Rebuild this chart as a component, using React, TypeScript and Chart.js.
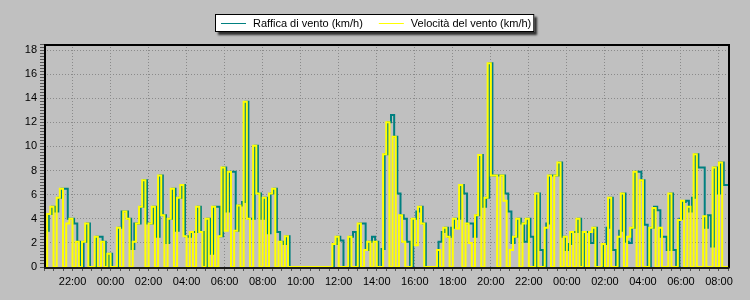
import React, { useEffect, useRef } from 'react';
import { Chart, registerables } from 'chart.js';

Chart.register(...registerables);

// first sample: 20:30 of day 1 (hours counted from midnight of day 1)
const START_HOUR = 20.5;
const STEP_MIN = 10;
const GUST_LAG_MIN = 5;
const X_MIN = 20.5;
const X_MAX = 56.5;
const Y_MAX = 18.5;

const seriesLabels = ['Raffica di vento (km/h)', 'Velocità del vento (km/h)'];
const seriesColors = ['#008080', '#ffff00'];

// Raffica di vento (km/h), one value every 10 minutes
const gust: number[] = [
  2.5, 3.0, 4.4, 5.0, 4.6, 5.75, 6.5, 6.5, 4.0, 4.0,
  3.6, 2.1, 0, 2.1, 3.6, 0, 0, 2.5, 2.5, 2.1,
  0, 1.1, 0, 0, 3.25, 4.6, 4.6, 4.0, 1.5, 3.6,
  3.6, 5.0, 7.2, 3.6, 3.6, 5.0, 2.5, 7.6, 4.3, 2.0,
  4.0, 6.5, 3.0, 5.75, 6.8, 2.55, 2.5, 2.9, 2.9, 5.0,
  2.9, 0, 4.0, 1.1, 5.0, 5.0, 2.55, 8.25, 4.6, 7.9,
  7.9, 3.0, 5.1, 5.4, 13.7, 4.0, 4.0, 10.05, 6.1, 4.0,
  5.75, 2.8, 6.1, 6.5, 2.9, 2.1, 1.9, 2.55, 0, 0,
  0, 0, 0, 0, 0, 0, 0, 0, 0, 0,
  0, 0, 1.9, 2.5, 2.2, 0, 0, 2.5, 2.9, 0,
  3.6, 3.6, 1.4, 2.1, 2.5, 2.1, 0, 1.5, 9.36, 12.0,
  12.6, 10.8, 6.1, 4.3, 4.0, 2.1, 0, 4.0, 4.6, 5.0,
  3.6, 0, 0, 0, 0, 2.1, 2.9, 3.25, 2.5, 3.25,
  4.0, 4.0, 6.8, 6.1, 3.6, 3.6, 2.5, 4.3, 9.3, 5.0,
  5.75, 16.9, 7.6, 7.6, 7.6, 7.6, 6.1, 4.6, 2.0, 2.5,
  4.0, 3.6, 2.1, 4.0, 2.5, 0, 6.1, 1.4, 0, 3.6,
  7.6, 7.6, 7.6, 8.67, 2.5, 1.4, 1.9, 2.9, 2.9, 4.0,
  0, 2.9, 2.9, 2.0, 3.25, 0, 0, 1.9, 3.25, 5.75,
  1.4, 0, 3.0, 6.1, 2.1, 2.0, 3.25, 7.9, 7.9, 7.2,
  3.5, 0, 3.25, 5.0, 4.7, 2.5, 2.5, 1.4, 6.1, 1.4,
  0, 4.0, 5.4, 5.5, 4.6, 5.75, 9.36, 8.25, 8.25, 3.25,
  4.3, 1.7, 8.25, 6.1, 8.67, 6.8,
];

// Velocità del vento (km/h), one value every 10 minutes
const speed: number[] = [
  2.5, 0, 4.4, 5.0, 0, 5.75, 6.5, 0, 3.6, 4.0,
  0, 2.1, 0, 2.1, 3.6, 0, 0, 2.5, 0, 2.1,
  0, 1.1, 0, 0, 3.25, 0, 4.6, 4.0, 0, 2.1,
  3.6, 5.0, 7.2, 0, 3.6, 5.0, 0, 7.6, 4.3, 0,
  4.0, 6.5, 0, 5.75, 6.8, 2.55, 0, 2.9, 0, 5.0,
  2.9, 0, 4.0, 0, 5.0, 0, 2.55, 8.25, 3.0, 7.9,
  0, 3.0, 5.1, 0, 13.7, 4.0, 0, 10.05, 6.1, 0,
  5.75, 0, 6.1, 6.5, 0, 2.1, 0, 2.55, 0, 0,
  0, 0, 0, 0, 0, 0, 0, 0, 0, 0,
  0, 0, 1.9, 2.5, 0, 0, 0, 2.5, 0, 0,
  3.6, 0, 1.4, 2.1, 0, 2.1, 0, 0, 9.36, 12.0,
  0, 10.8, 0, 4.3, 2.1, 0, 0, 4.0, 1.8, 5.0,
  3.6, 0, 0, 0, 0, 1.4, 0, 3.25, 2.5, 0,
  4.0, 3.2, 6.8, 0, 3.6, 2.0, 0, 4.3, 9.3, 0,
  5.75, 16.9, 7.6, 7.6, 0, 7.6, 5.5, 0, 1.4, 2.5,
  4.0, 0, 3.6, 4.0, 0, 0, 6.1, 0, 0, 3.25,
  7.6, 0, 7.6, 8.67, 0, 2.5, 0, 2.9, 0, 4.0,
  0, 2.9, 0, 2.9, 3.25, 0, 0, 1.9, 0, 5.75,
  0, 0, 2.5, 6.1, 0, 2.5, 3.25, 7.9, 0, 7.2,
  0, 0, 3.25, 4.9, 0, 3.25, 0, 0, 6.1, 0,
  0, 3.9, 5.5, 0, 5.0, 0, 9.36, 0, 0, 4.2,
  0, 0, 8.25, 0, 8.67, 0,
];

const FONT = '"Liberation Sans", Arial, sans-serif';
const BG = '#c0c0c0';

function toPoints(values: number[], lagMin: number) {
  const pts = values.map((v, i) => ({ x: START_HOUR + (i * STEP_MIN + lagMin) / 60, y: v }));
  const n = values.length;
  pts.push({ x: START_HOUR + (n * STEP_MIN + lagMin) / 60, y: values[n - 1] });
  return pts;
}

function hourLabel(v: number) {
  const h = ((Math.round(v) % 24) + 24) % 24;
  return (h < 10 ? '0' : '') + h + ':00';
}

const isEven = (v: number) => Math.abs(v / 2 - Math.round(v / 2)) < 1e-9;

const backgroundPlugin = {
  id: 'bg',
  beforeDraw(chart: any) {
    const { ctx, width, height } = chart;
    ctx.save();
    ctx.fillStyle = BG;
    ctx.fillRect(0, 0, width, height);
    ctx.restore();
  },
};

const framePlugin = {
  id: 'frame',
  afterDatasetsDraw(chart: any) {
    const { ctx, chartArea: a } = chart;
    ctx.save();
    ctx.fillStyle = '#000';
    ctx.fillRect(a.left, a.top, a.right - a.left + 1, 2);
    ctx.fillRect(a.right - 0.5, a.top, 2, a.bottom - a.top + 1);
    ctx.fillRect(a.left, a.top, 2, a.bottom - a.top + 2);
    ctx.fillStyle = '#1a1a1a';
    ctx.fillRect(a.left, a.bottom, a.right - a.left + 1, 2);
    ctx.restore();
  },
};

const legendPlugin = {
  id: 'customLegend',
  afterDraw(chart: any) {
    const { ctx, width } = chart;
    ctx.save();
    ctx.font = '11px ' + FONT;
    const lineLen = 25;
    const padL = 6;
    const gapText = 7;
    const gapItem = 16;
    const padR = 3;
    const widths = seriesLabels.map((t) => ctx.measureText(t).width);
    let total = padL + padR;
    widths.forEach((w, i) => {
      total += lineLen + gapText + w + (i < widths.length - 1 ? gapItem : 0);
    });
    const boxH = 18;
    const left = Math.round(width / 2 - total / 2);
    const top = 14;
    ctx.save();
    ctx.shadowColor = 'rgba(0,0,0,0.75)';
    ctx.shadowBlur = 2;
    ctx.shadowOffsetX = 3;
    ctx.shadowOffsetY = 3;
    ctx.fillStyle = '#fff';
    ctx.fillRect(left, top, total, boxH);
    ctx.restore();
    ctx.strokeStyle = '#000';
    ctx.lineWidth = 1;
    ctx.strokeRect(left + 0.5, top + 0.5, total - 1, boxH - 1);
    let x = left + padL;
    const cy = top + boxH / 2;
    seriesLabels.forEach((t, i) => {
      ctx.strokeStyle = seriesColors[i];
      ctx.beginPath();
      ctx.moveTo(x, Math.round(cy) + 0.5);
      ctx.lineTo(x + lineLen, Math.round(cy) + 0.5);
      ctx.stroke();
      x += lineLen + gapText;
      ctx.fillStyle = '#000';
      ctx.textAlign = 'left';
      ctx.textBaseline = 'middle';
      ctx.fillText(t, x, cy + 0.5);
      x += widths[i] + gapItem;
    });
    ctx.restore();
  },
};

export default function App() {
  const canvasRef = useRef<HTMLCanvasElement | null>(null);

  useEffect(() => {
    document.body.style.margin = '0';
    document.body.style.background = BG;
    const canvas = canvasRef.current;
    if (!canvas) return;
    const chart = new Chart(canvas, {
      type: 'line',
      data: {
        datasets: [
          {
            label: seriesLabels[0],
            data: toPoints(gust, GUST_LAG_MIN),
            borderColor: seriesColors[0],
            backgroundColor: seriesColors[0],
            borderWidth: 2,
            stepped: 'after',
            pointRadius: 0,
            fill: false,
            clip: 0,
            order: 2,
          },
          {
            label: seriesLabels[1],
            data: toPoints(speed, 0),
            borderColor: seriesColors[1],
            backgroundColor: seriesColors[1],
            borderWidth: 2,
            stepped: 'after',
            pointRadius: 0,
            fill: false,
            clip: 0,
            order: 1,
          },
        ],
      },
      options: {
        responsive: false,
        animation: false,
        devicePixelRatio: 1,
        layout: { padding: { top: 44, right: 21.5, left: 0, bottom: 0 } },
        plugins: {
          legend: { display: false },
          tooltip: { enabled: false },
        },
        scales: {
          x: {
            type: 'linear',
            min: X_MIN,
            max: X_MAX,
            afterFit: (s: any) => {
              s.height = 33;
            },
            border: { display: false, dash: [1, 2] },
            grid: {
              color: (c: any) => (c.tick && isEven(c.tick.value) ? '#8a8a8a' : 'rgba(0,0,0,0)'),
              tickColor: '#555',
              tickLength: 4,
              lineWidth: 1,
            },
            ticks: {
              stepSize: 0.5,
              autoSkip: false,
              maxRotation: 0,
              padding: 4,
              color: '#000',
              font: { family: FONT, size: 11 },
              callback: (v: any) => (isEven(Number(v)) ? hourLabel(Number(v)) : ''),
            },
          },
          y: {
            type: 'linear',
            min: 0,
            max: Y_MAX,
            afterFit: (s: any) => {
              s.width = 44;
            },
            border: { display: false, dash: [1, 2] },
            grid: {
              color: (c: any) =>
                c.tick && c.tick.value > 0 && isEven(c.tick.value) ? '#8a8a8a' : 'rgba(0,0,0,0)',
              tickColor: '#555',
              tickLength: 4,
              lineWidth: 1,
            },
            ticks: {
              stepSize: 0.25,
              autoSkip: false,
              padding: 3,
              color: '#000',
              font: { family: FONT, size: 11 },
              callback: (v: any) => (isEven(Number(v)) ? String(v) : ''),
            },
          },
        },
      },
      plugins: [backgroundPlugin, framePlugin, legendPlugin],
    });
    return () => chart.destroy();
  }, []);

  return (
    <div style={{ width: 750, height: 300 }}>
      <canvas ref={canvasRef} width={750} height={300} style={{ display: 'block' }} />
    </div>
  );
}
